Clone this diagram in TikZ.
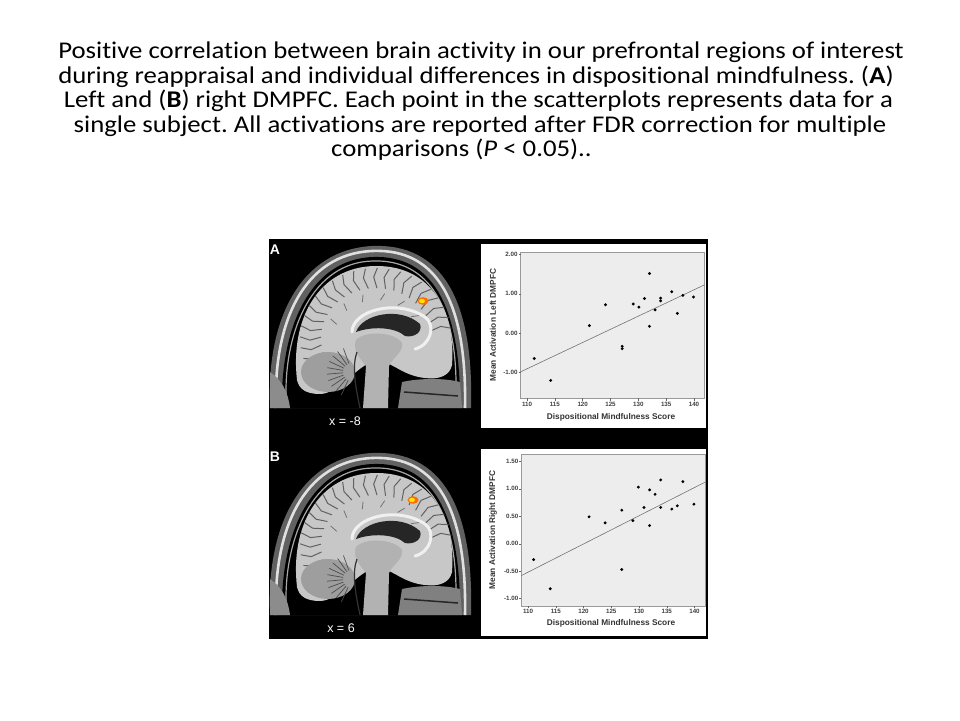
\documentclass[tikz,border=0pt]{standalone}
\usepackage{fontspec}
\setmainfont{Carlito}
\newfontfamily\capfont{Carlito}[FakeStretch=1.115, Ligatures=NoCommon]
\newfontfamily\plotfont{Liberation Sans}
\frenchspacing
\begin{document}
\begin{tikzpicture}[x=1pt, y=-1pt,
  title/.style = {anchor=base, inner sep=0pt, font=\capfont\fontsize{24}{24}\selectfont},
  panlab/.style = {text=white, inner sep=0pt, font=\plotfont\bfseries\fontsize{14}{14}\selectfont},
  cutlab/.style = {text=white, inner sep=0pt, font=\plotfont\fontsize{12.5}{12.5}\selectfont},
  ticklab/.style = {inner sep=1pt, font=\plotfont\bfseries\fontsize{6.2}{6.2}\selectfont, text=black!75},
  axlab/.style = {inner sep=0pt, font=\plotfont\bfseries\fontsize{8.3}{8.3}\selectfont, text=black!80},
  plotbg/.style = {fill=black!7, draw=black!40, line width=0.5pt},
  fitline/.style = {draw=black!55, line width=0.6pt}]
\useasboundingbox (0,0) rectangle (960,720);
\fill[white] (0,0) rectangle (960,720);

% caption
\node[title] (line1) at (481,58) {Positive correlation between brain activity in our prefrontal regions of interest};
\node[title] (line2) at (476,83) {during reappraisal and individual differences in dispositional mindfulness. (\textbf{A})};
\node[title] (line3) at (478.5,107) {Left and (\textbf{B}) right DMPFC. Each point in the scatterplots represents data for a};
\node[title] (line4) at (480,132) {single subject. All activations are reported after FDR correction for multiple};
\node[title] (line5) at (461.5,156) {comparisons (\textit{P} < 0.05)..};

% figure frame
\fill[black] (269,239) rectangle (708,639);
\fill[white] (481,244) rectangle (706,428);
\fill[white] (481,449) rectangle (706,636);

% brain slices
\foreach \dy/\pan/\cut/\lx/\bx/\by in {0/A/-8/345/423/301, 207/B/6/341/413/293} {
\begin{scope}[shift={(0,\dy)}]
  \fill[black!62] (270,408) .. controls (266,320) and (300,250) .. (372,246) .. controls (442,243) and (474,300) .. (471,408) -- cycle;
  \draw[black!12, line width=2.6pt] (276,408) .. controls (273,322) and (304,254) .. (372,251) .. controls (437,248) and (467,302) .. (465,408);
  \fill[black] (282,408) .. controls (280,328) and (310,259) .. (373,257) .. controls (432,255) and (461,305) .. (460,408) -- cycle;
  \draw[black!35, line width=1.2pt] (286,395) .. controls (285,330) and (313,262) .. (373,261) .. controls (428,259) and (457,306) .. (456,390);
  % cortex
  \fill[black!22] (297,380) .. controls (290,320) and (318,267) .. (375,266) .. controls (430,265) and (456,310) .. (452,365)
    .. controls (450,375) and (440,380) .. (425,378) .. controls (405,376) and (395,365) .. (380,360)
    .. controls (360,360) and (340,394) .. (320,394) .. controls (306,394) and (299,389) .. (297,380) -- cycle;
  \foreach \a in {8,17,...,200}
    \draw[black!62, line width=1pt, line join=round]
      ({376+76*cos(\a)},{338-70*sin(\a)}) -- ({376+66*cos(\a+3)},{338-61*sin(\a+3)}) -- ({376+55*cos(\a)},{338-50*sin(\a)});
  \foreach \a in {30,55,...,160}
    \draw[black!55, line width=0.8pt] ({376+50*cos(\a)},{338-45*sin(\a)}) -- ({376+42*cos(\a+4)},{338-38*sin(\a+4)});
  % cerebellum
  \fill[black!38] (328,372) ellipse (27 and 20);
  \foreach \a in {115,130,...,250}
    \draw[black!70, line width=0.7pt] (352,372) ++(\a:9) -- ++(\a:16);
  % ventricle, corpus callosum, brainstem
  \fill[black!85] (356,332) .. controls (362,314) and (400,306) .. (420,324) .. controls (423,332) and (414,338) .. (405,336)
    .. controls (395,327) and (372,326) .. (356,332) -- cycle;
  \draw[black!6, line width=3pt, line cap=round] (352,332) .. controls (352,311) and (396,298) .. (425,317) .. controls (436,325) and (431,345) .. (415,349);
  \fill[black!30] (356,340) .. controls (365,330) and (395,332) .. (402,343) .. controls (404,352) and (392,358) .. (389,366)
    -- (388,408) -- (363,408) -- (366,366) .. controls (360,358) and (352,350) .. (356,340) -- cycle;
  \draw[black!80, line width=1.2pt] (357,352) .. controls (352,365) and (355,385) .. (360,408);
  % face and neck tissue
  \fill[black!50] (402,382) .. controls (420,378) and (445,378) .. (460,382) -- (462,408) -- (398,408) -- cycle;
  \draw[black!85, line width=1.5pt] (404,392) -- (458,396);
  \fill[black!45] (270,372) .. controls (282,380) and (288,392) .. (290,408) -- (270,408) -- cycle;
  % activation
  \fill[orange!85!red] (\bx,\by) ellipse (5.5 and 3.8);
  \fill[yellow!85!orange] (\bx-1,\by) ellipse (3 and 2.2);
  % labels
  \node[panlab] (lab\pan) at (275,250) {\pan};
  \node[cutlab] (cut\pan) at (\lx,421) {x = \cut};
\end{scope}
}

% scatterplot A
\begin{scope}[shift={(527,333)}, x=5.567pt, y=39.2pt, shift={(-110,0)}]
  \draw[plotbg] (108.86,-1.67) rectangle (141.9,2.06);
  \foreach \t/\s in {-1/-1.00, 0/0.00, 1/1.00, 2/2.00}
    \draw[black!60, line width=0.4pt] (108.86,\t) -- ++(-0.35,0) node[ticklab, anchor=east] (ytA\t) {\s};
  \foreach \t in {110,115,...,140}
    \draw[black!60, line width=0.4pt] (\t,-1.67) -- ++(0,-0.06) node[ticklab, anchor=north] (xtA\t) {\t};
  \draw[fitline] (108.86,-0.99) -- (141.9,1.23);
  \foreach \px/\py in {111.3/-0.65, 114.25/-1.21, 121.2/0.19, 124.1/0.72, 127.1/-0.34, 127.1/-0.40,
      129.1/0.74, 130.1/0.66, 131.1/0.88, 132/1.52, 132/0.17, 133/0.59, 134/0.89, 134/0.82,
      136/1.05, 137/0.50, 138/0.96, 139.9/0.92}
    \fill (\px,\py) circle (1.6pt);
\end{scope}
\node[axlab] (xlabA) at (611,417) {Dispositional Mindfulness Score};
\node[axlab, rotate=90] (ylabA) at (493,325) {Mean Activation Left DMPFC};

% scatterplot B
\begin{scope}[shift={(528,543.7)}, x=5.55pt, y=54.93pt, shift={(-110,0)}]
  \draw[plotbg] (108.8,-1.13) rectangle (141.9,1.63);
  \foreach \t/\s in {-1/-1.00, -0.5/-0.50, 0/0.00, 0.5/0.50, 1/1.00, 1.5/1.50}
    \draw[black!60, line width=0.4pt] (108.8,\t) -- ++(-0.35,0) node[ticklab, anchor=east] (ytB\s) {\s};
  \foreach \t in {110,115,...,140}
    \draw[black!60, line width=0.4pt] (\t,-1.13) -- ++(0,-0.045) node[ticklab, anchor=north] (xtB\t) {\t};
  \draw[fitline] (108.8,-0.58) -- (141.9,1.12);
  \foreach \px/\py in {111/-0.29, 114/-0.82, 121/0.49, 123.9/0.38, 126.9/0.61, 126.9/-0.47,
      128.9/0.42, 129.9/1.03, 130.9/0.66, 131.9/0.98, 131.9/0.33, 132.9/0.90, 133.9/1.16,
      133.9/0.66, 135.9/0.63, 136.9/0.69, 137.9/1.13, 139.9/0.72}
    \fill (\px,\py) circle (1.6pt);
\end{scope}
\node[axlab] (xlabB) at (611,623) {Dispositional Mindfulness Score};
\node[axlab, rotate=90] (ylabB) at (493,530) {Mean Activation Right DMPFC};
\end{tikzpicture}
\end{document}
